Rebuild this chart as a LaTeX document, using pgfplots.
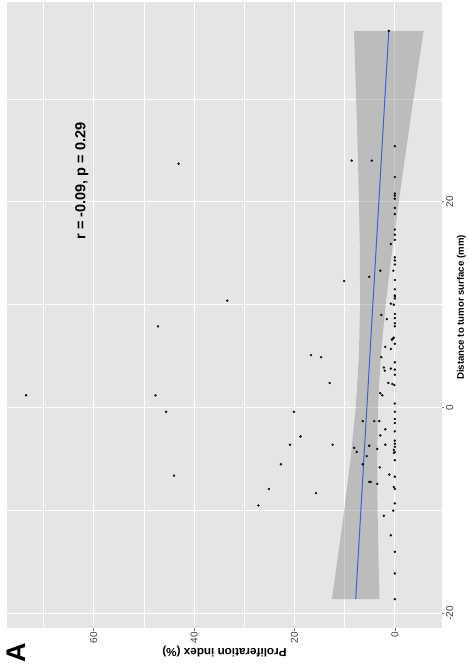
\documentclass[border=0pt]{standalone}
\usepackage{pgfplots}
\pgfplotsset{compat=1.18}
\usepackage{fontspec}
\setmainfont{Liberation Sans}
\definecolor{panelbg}{HTML}{E5E5E5}
\definecolor{bandfill}{HTML}{8C8C8C}
\definecolor{smoothblue}{HTML}{3F5FD6}
\definecolor{ptcol}{HTML}{3A3A3A}
\definecolor{ticklab}{HTML}{3A3A3A}

\pgfplotstableread{
p d
0 25.4
0 22.4
0 20.8
0 20.6
0 20.3
0 19.4
0 18.8
0 17.3
0 16.8
0 16.3
0 14.6
0 14.3
0 13.9
0 12.4
0 11.5
0 10.9
0 10.8
0 10.6
0 9.1
0 8.7
0 8.2
0 7.9
0 6.2
0 4.4
0 3.7
0 3.2
0 0.4
0 -0.4
0 -1.1
0 -1.5
0 -2.3
0 -3.2
0 -3.5
0 -3.8
0 -4.3
0 -5.1
0 -6.7
0 -7.9
0 -9.3
0 -14.0
0 -16.1
0 -18.6
0.8 15.9
0.3 13.3
0.2 10.0
0.8 10.1
0.6 6.6
0.4 6.7
0.2 6.8
0.8 5.7
0.8 3.8
0.5 2.3
0.1 2.2
0.2 -4.1
0.2 -4.4
0.2 -7.7
0.3 -10.0
0.8 -12.4
1.1 -6.5
1.2 36.6
2.9 13.3
5.1 12.7
10.1 12.3
8.6 24.0
4.6 24.0
2.7 9.0
1.6 8.6
1.9 5.9
2.7 4.9
2.2 3.9
2.0 3.6
1.3 2.4
2.9 1.4
2.5 1.2
6.4 -1.3
4.1 -1.3
3.1 -1.3
1.9 -2.1
2.9 -2.7
8.1 -3.9
7.6 -4.3
5.1 -3.7
3.5 -4.0
1.9 -3.6
5.6 -4.7
6.4 -5.5
3.0 -5.8
5.1 -7.2
4.8 -7.2
3.5 -7.4
2.2 -10.5
33.4 10.4
16.7 5.1
14.7 4.9
13.0 2.4
20.1 -0.4
18.8 -2.8
20.9 -3.6
12.4 -3.6
22.7 -5.5
25.1 -7.9
15.7 -8.3
27.2 -9.5
47.2 7.9
73.5 1.2
47.7 1.2
45.6 -0.4
44.0 -6.6
43.1 23.7
}\points

\begin{document}
\begin{tikzpicture}
\begin{axis}[
  scale only axis, width=435pt, height=626pt,
  at={(0pt,0pt)}, anchor=south west,
  x dir=reverse,
  xmin=-9.4, xmax=77.3, ymin=-21.4, ymax=39.4,
  xtick={0,20,40,60}, xticklabels={0,20,40,60},
  ytick={-20,0,20}, yticklabels={-20,0,20},
  minor xtick={10,30,50,70}, minor ytick={-10,10,30},
  grid=both,
  major grid style={white, line width=1.1pt},
  minor grid style={white, line width=0.55pt},
  axis background/.style={fill=panelbg},
  axis line style={draw=none},
  tick align=outside, major tick length=2.5pt, minor tick length=0pt,
  tick style={color=black!55, line width=0.6pt},
  xtick pos=bottom, ytick pos=right, yticklabel pos=right,
  xticklabel style={rotate=90, anchor=east, font=\fontsize{10}{12}\selectfont, text=ticklab, inner sep=1.5pt},
  yticklabel style={rotate=90, anchor=north, font=\fontsize{10}{12}\selectfont, text=ticklab, inner sep=1.5pt},
]
\addplot[only marks, mark=*, mark size=1pt, draw=none, fill=ptcol] table[x=p, y=d] {\points};
\addplot[fill=bandfill, fill opacity=0.45, draw=none] coordinates {
  (12.55,-18.6) (11.50,-15) (10.10,-10) (8.83,-5) (7.80,0) (7.16,5) (6.93,10)
  (6.96,15) (7.15,20) (7.40,25) (7.71,30) (8.13,36.6)
  (-5.73,36.6) (-3.73,30) (-2.24,25) (-0.79,20) (0.60,15) (1.83,10) (2.80,5)
  (3.36,0) (3.51,-5) (3.44,-10) (3.24,-15) (3.05,-18.6)
} -- cycle;
\addplot[smoothblue, line width=1pt] coordinates {(7.8,-18.6) (1.2,36.6)};
\node[rotate=90, font=\bfseries\fontsize{14.5}{16}\selectfont] at (axis cs:62.4,22.0) {r = -0.09, p = 0.29};
\end{axis}
\node[rotate=180, font=\bfseries\fontsize{11.7}{14}\selectfont] at (217.5pt,-24pt) {Proliferation index (\%)};
\node[rotate=90, font=\bfseries\fontsize{9.6}{12}\selectfont] at (454.5pt,320.5pt) {Distance to tumor surface (mm)};
\node[rotate=90, font=\bfseries\fontsize{27}{30}\selectfont] at (9.5pt,-25pt) {A};
\pgfresetboundingbox
\path[use as bounding box] (-7pt,-41pt) rectangle (461pt,628pt);
\end{tikzpicture}
\end{document}
